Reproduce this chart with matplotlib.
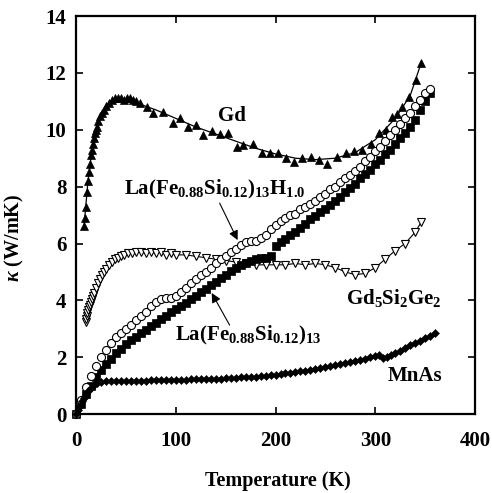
import matplotlib
matplotlib.use("Agg")
import matplotlib.pyplot as plt

plt.rcParams['font.family'] = ['Liberation Serif', 'DejaVu Serif']
plt.rcParams['font.weight'] = 'bold'
plt.rcParams['mathtext.fontset'] = 'custom'
plt.rcParams['mathtext.rm'] = 'Liberation Serif:bold'
plt.rcParams['mathtext.it'] = 'Liberation Serif:bold:italic'
plt.rcParams['mathtext.bf'] = 'Liberation Serif:bold'

# ---------------- data ----------------
gd_T = [8, 9, 10, 11, 12, 13, 14, 15, 16, 17, 18, 19, 20, 21, 22, 24, 26, 28, 30, 33,
        36, 39, 42, 45, 48, 51, 54, 57, 60, 64, 71, 77, 87, 97, 104, 112, 120, 127, 136,
        144, 152, 161, 167, 177, 186, 194, 202, 211, 219, 227, 236, 244, 252, 262, 271,
        279, 287, 296, 304, 311, 317, 322, 327, 334, 341, 346]
gd_k = [6.6, 6.9, 7.3, 7.8, 8.2, 8.5, 8.8, 9.1, 9.3, 9.5, 9.7, 9.9, 10.0, 10.1, 10.3,
        10.5, 10.6, 10.7, 10.85, 10.95, 11.05, 11.1, 11.1, 11.1, 11.05, 11.1, 11.1, 11.05,
        11.0, 10.93, 10.8, 10.6, 10.63, 10.25, 10.4, 10.1, 10.15, 9.8, 9.95, 9.85, 9.9,
        9.4, 9.45, 9.5, 9.17, 9.17, 9.2, 9.0, 8.87, 9.0, 9.05, 8.95, 8.8, 9.05, 9.2,
        9.25, 9.3, 9.5, 9.9, 10.0, 10.45, 10.55, 10.8, 11.15, 11.75, 12.35]
gd_fit_T = [8, 12, 16, 20, 25, 30, 40, 50, 60, 80, 100, 120, 140, 160, 180, 200, 220,
            240, 260, 280, 300, 320, 335, 346]
gd_fit_k = [6.6, 8.2, 9.3, 10.0, 10.55, 10.85, 11.05, 11.05, 10.95, 10.7, 10.4, 10.1,
            9.85, 9.6, 9.35, 9.15, 9.0, 8.95, 9.0, 9.2, 9.65, 10.4, 11.2, 12.35]

gsg_T = [10, 10.5, 11, 11.5, 12, 13, 14, 15, 16, 17, 18, 20, 22, 24, 26, 28, 30, 33, 36,
         39, 42, 45, 48, 52, 56, 60, 65, 70, 75, 80, 85, 90, 95, 100, 110, 120, 130, 140,
         150, 160, 170, 180, 190, 200, 210, 220, 230, 240, 250, 260, 270, 280, 290, 300,
         310, 320, 330, 340, 346]
gsg_k = [3.25, 3.35, 3.45, 3.55, 3.65, 3.75, 3.85, 3.95, 4.05, 4.15, 4.25, 4.45, 4.6,
         4.75, 4.9, 5.0, 5.1, 5.25, 5.35, 5.45, 5.5, 5.55, 5.6, 5.65, 5.65, 5.7, 5.7, 5.65,
         5.7, 5.65, 5.7, 5.6, 5.65, 5.6, 5.6, 5.55, 5.5, 5.45, 5.4, 5.35, 5.3, 5.25, 5.25,
         5.25, 5.25, 5.3, 5.25, 5.3, 5.25, 5.15, 5.0, 4.9, 4.95, 5.15, 5.45, 5.75, 6.0,
         6.4, 6.75]

lah_T = [0, 5, 10, 15, 20, 25, 30, 35, 40, 45, 50, 55, 60, 65, 70, 75, 80, 85, 90, 95,
         100, 105, 110, 115, 120, 125, 130, 135, 140, 145, 150, 155, 160, 165, 170, 175,
         180, 185, 190, 195, 200, 205, 210, 215, 220, 225, 230, 235, 240, 245, 250, 255,
         260, 265, 270, 275, 280, 285, 290, 295, 300, 305, 310, 315, 320, 325, 330, 335,
         340, 345, 350, 355]
lah_k = [0.0, 0.5, 0.95, 1.35, 1.7, 2.0, 2.25, 2.5, 2.7, 2.85, 3.0, 3.15, 3.3, 3.45, 3.6,
         3.8, 3.95, 4.05, 4.08, 4.1, 4.15, 4.3, 4.45, 4.6, 4.75, 4.9, 5.0, 5.15, 5.3, 5.45,
         5.55, 5.7, 5.8, 5.95, 6.05, 6.1, 6.1, 6.2, 6.3, 6.5, 6.65, 6.8, 6.9, 7.0, 7.05,
         7.2, 7.3, 7.4, 7.5, 7.65, 7.75, 7.9, 8.0, 8.15, 8.3, 8.4, 8.55, 8.7, 8.9, 9.05,
         9.25, 9.4, 9.6, 9.8, 10.0, 10.2, 10.4, 10.6, 10.85, 11.05, 11.3, 11.45]

la_T = lah_T
la_k = [0.0, 0.35, 0.7, 1.0, 1.3, 1.55, 1.75, 1.95, 2.15, 2.3, 2.45, 2.6, 2.7, 2.85,
        2.95, 3.1, 3.2, 3.35, 3.45, 3.6, 3.7, 3.8, 3.9, 4.05, 4.15, 4.3, 4.4, 4.55, 4.65,
        4.8, 4.9, 5.05, 5.15, 5.25, 5.3, 5.4, 5.45, 5.5, 5.5, 5.55, 5.9, 6.05, 6.15, 6.3,
        6.4, 6.55, 6.7, 6.85, 6.95, 7.1, 7.2, 7.35, 7.5, 7.65, 7.8, 7.95, 8.1, 8.3, 8.45,
        8.6, 8.8, 8.95, 9.15, 9.3, 9.5, 9.7, 9.9, 10.1, 10.35, 10.7, 11.0, 11.3]

mn_T = [0, 2, 4, 6, 8, 10, 12, 15, 18, 21, 25, 30, 35, 40, 45, 50, 55, 60, 65, 70, 75,
        80, 85, 90, 95, 100, 105, 110, 115, 120, 125, 130, 135, 140, 145, 150, 155, 160,
        165, 170, 175, 180, 185, 190, 195, 200, 205, 210, 215, 220, 225, 230, 235, 240,
        245, 250, 255, 260, 265, 270, 275, 280, 285, 290, 295, 300, 304, 308, 312, 316,
        320, 325, 330, 335, 340, 345, 350, 355, 360]
mn_k = [0.0, 0.15, 0.3, 0.45, 0.58, 0.7, 0.8, 0.92, 1.02, 1.08, 1.12, 1.15, 1.16, 1.17,
        1.17, 1.17, 1.18, 1.18, 1.18, 1.18, 1.19, 1.19, 1.2, 1.2, 1.2, 1.2, 1.21, 1.21,
        1.22, 1.22, 1.23, 1.23, 1.24, 1.25, 1.25, 1.26, 1.27, 1.28, 1.29, 1.3, 1.31, 1.32,
        1.34, 1.35, 1.37, 1.39, 1.41, 1.43, 1.45, 1.47, 1.5, 1.53, 1.55, 1.58, 1.61, 1.65,
        1.68, 1.72, 1.75, 1.79, 1.83, 1.87, 1.91, 1.95, 2.0, 2.05, 2.07, 1.97, 2.02, 2.08,
        2.15, 2.23, 2.32, 2.42, 2.5, 2.58, 2.66, 2.76, 2.85]

xticks = [0, 100, 200, 300, 400]
yticks = [0, 2, 4, 6, 8, 10, 12, 14]

# ---------------- figure ----------------
fig = plt.figure(figsize=(4.92, 4.93), dpi=100)
ax = fig.add_axes([0.1545, 0.160, 0.811, 0.8075])

ax.plot(gd_fit_T, gd_fit_k, '-', color='k', lw=0.9)
ax.plot(gd_T, gd_k, '^', color='k', ms=6, mew=0.5, ls='none')
ax.plot(gsg_T, gsg_k, 'v-', color='k', mfc='white', ms=5.5, mew=0.8, lw=0.8)
ax.plot(la_T, la_k, 's', color='k', ms=5.8, mew=0.5, ls='none', clip_on=False)
ax.plot(lah_T, lah_k, 'o', color='k', mfc='white', ms=5.8, mew=0.8, ls='none', clip_on=False)
ax.plot(mn_T, mn_k, 'D-', color='k', ms=4, mew=0.4, lw=1.0, clip_on=False)

ax.set_xlim(0, 400)
ax.set_ylim(0, 14)
ax.set_xticks(xticks)
ax.set_yticks(yticks)
ax.tick_params(direction='in', length=5, width=1.2, top=True, right=True,
               labelsize=15)
ax.tick_params(axis='x', pad=12)
ax.tick_params(axis='y', pad=7)
for lab in ax.get_xticklabels() + ax.get_yticklabels():
    lab.set_fontweight('bold')
for s in ax.spines.values():
    s.set_linewidth(1.6)

ax.set_xlabel('Temperature (K)', fontsize=14.5, fontweight='bold')
ax.set_ylabel(r'$\kappa$ (W/mK)', fontsize=14.5, fontweight='bold')
ax.xaxis.set_label_coords(0.506, -0.143)
ax.yaxis.set_label_coords(-0.125, 0.442)

tk = dict(fontsize=15, fontweight='bold', color='k')
ax.text(156, 10.5, 'Gd', ha='center', va='center', **tk)
ax.text(48, 7.9, r'La(Fe$_{0.88}$Si$_{0.12}$)$_{13}$H$_{1.0}$', ha='left', va='center', **tk)
ax.text(271, 4.1, r'Gd$_{5}$Si$_{2}$Ge$_{2}$', ha='left', va='center', **tk)
ax.text(99, 2.75, r'La(Fe$_{0.88}$Si$_{0.12}$)$_{13}$', ha='left', va='center', **tk)
ax.text(367, 1.34, 'MnAs', ha='right', va='center', **tk)

ap = dict(arrowstyle='-|>', lw=0.8, color='k', mutation_scale=14, shrinkA=0, shrinkB=0)
ax.annotate('', xy=(162, 6.12), xytext=(144, 7.42), arrowprops=ap)
ax.annotate('', xy=(136, 4.26), xytext=(154, 3.13), arrowprops=ap)

fig.savefig('out.png', dpi=100)
